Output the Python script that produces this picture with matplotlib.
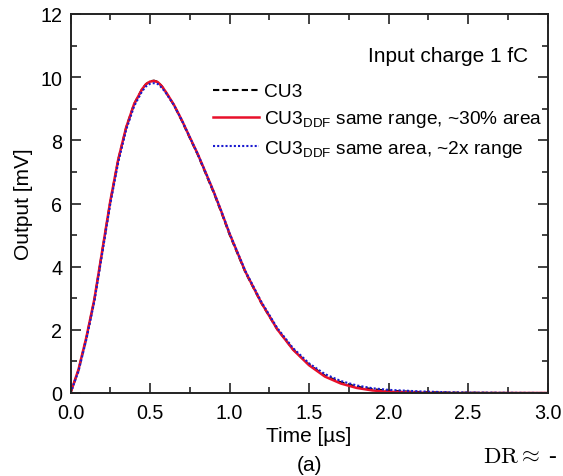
import matplotlib
matplotlib.use("Agg")
import matplotlib.pyplot as plt
from matplotlib.ticker import MultipleLocator, FormatStrFormatter

plt.rcParams['font.family'] = ['Liberation Sans', 'DejaVu Sans']
plt.rcParams['mathtext.fontset'] = 'custom'
plt.rcParams['mathtext.rm'] = 'Liberation Sans'
plt.rcParams['mathtext.it'] = 'Liberation Sans:italic'
plt.rcParams['mathtext.bf'] = 'Liberation Sans:bold'

# Shaper output for 1 fC input charge
time_us = [0.0, 0.05, 0.1, 0.15, 0.2, 0.25, 0.3, 0.35, 0.4, 0.45, 0.475, 0.5, 0.525,
           0.55, 0.575, 0.6, 0.65, 0.7, 0.75, 0.8, 0.85, 0.9, 0.95, 1.0, 1.1, 1.2,
           1.3, 1.4, 1.5, 1.6, 1.7, 1.8, 1.9, 2.0, 2.2, 2.4, 2.6, 2.8, 3.0]

cu3 = [0.0, 0.72, 1.75, 2.95, 4.5, 6.05, 7.38, 8.4, 9.15, 9.62, 9.78, 9.87, 9.89,
       9.85, 9.71, 9.52, 9.12, 8.62, 8.08, 7.55, 6.95, 6.35, 5.7, 5.02, 3.82, 2.85,
       2.02, 1.38, 0.9, 0.55, 0.34, 0.2, 0.12, 0.07, 0.03, 0.01, 0.005, 0.0, 0.0]

cu3_ddf_range = [0.0, 0.74, 1.77, 2.97, 4.52, 6.07, 7.39, 8.41, 9.15, 9.62, 9.78, 9.86, 9.88,
                 9.84, 9.71, 9.53, 9.13, 8.64, 8.1, 7.57, 6.98, 6.38, 5.73, 5.05, 3.84, 2.86,
                 2.02, 1.37, 0.88, 0.52, 0.3, 0.16, 0.08, 0.04, 0.01, 0.0, 0.0, 0.0, 0.0]

cu3_ddf_area = [0.0, 0.68, 1.7, 2.9, 4.43, 5.98, 7.3, 8.33, 9.08, 9.55, 9.71, 9.79, 9.81,
                9.78, 9.66, 9.5, 9.12, 8.64, 8.1, 7.57, 6.98, 6.38, 5.74, 5.06, 3.86, 2.89,
                2.06, 1.42, 0.94, 0.6, 0.38, 0.24, 0.15, 0.1, 0.05, 0.02, 0.01, 0.005, 0.0]

labels = ['CU3',
          r'CU3$_{\mathrm{DDF}}$ same range, ~30% area',
          r'CU3$_{\mathrm{DDF}}$ same area, ~2x range']

fig = plt.figure(figsize=(5.63, 4.77), dpi=100)
ax = fig.add_axes([70.5 / 563, 1 - 394 / 477, 477 / 563, 379 / 477])

ax.plot(time_us, cu3, color='black', lw=1.5, ls=(0, (3, 1.6)), label=labels[0])
ax.plot(time_us, cu3_ddf_range, color='#e8102a', lw=1.8, ls='-', label=labels[1])
ax.plot(time_us, cu3_ddf_area, color='#1a1ad0', lw=1.5, ls=(0, (1, 1)), label=labels[2])

ax.set_xlim(0, 3.0)
ax.set_ylim(0, 12)
ax.xaxis.set_major_locator(MultipleLocator(0.5))
ax.xaxis.set_minor_locator(MultipleLocator(0.25))
ax.yaxis.set_major_locator(MultipleLocator(2))
ax.yaxis.set_minor_locator(MultipleLocator(1))
ax.xaxis.set_major_formatter(FormatStrFormatter('%.1f'))

ax.tick_params(which='both', direction='in', top=True, right=True,
               labelsize=14.2, width=1.2, color='#222222')
ax.tick_params(which='major', length=7)
ax.tick_params(axis='y', which='major', pad=6)
ax.tick_params(axis='x', which='major', pad=7.5)
ax.tick_params(which='minor', length=4)
for sp in ax.spines.values():
    sp.set_linewidth(1.4)
    sp.set_color('#222222')

ax.set_xlabel('Time [µs]', fontsize=15, labelpad=2.5)
ax.set_ylabel('Output [mV]', fontsize=15, labelpad=5)

leg = ax.legend(loc='upper left', bbox_to_anchor=(213 / 563, 1 - 84 / 477),
                bbox_transform=fig.transFigure, frameon=False, fontsize=13.8,
                handlelength=2.4, handletextpad=0.25, labelspacing=0.42,
                borderpad=0, borderaxespad=0)

fig.text(528 / 563, 1 - 57 / 477, 'Input charge 1 fC', ha='right', va='center',
         fontsize=15)
fig.text(309 / 563, 1 - 466 / 477, '(a)', ha='center', va='center', fontsize=15)
fig.text(483 / 563, 1 - 463 / 477, r'$\mathrm{DR} \approx$ -', ha='left',
         va='baseline', fontsize=16.5, math_fontfamily='cm',
         family=['Liberation Serif', 'DejaVu Serif'])

fig.savefig('out.png', dpi=100)
